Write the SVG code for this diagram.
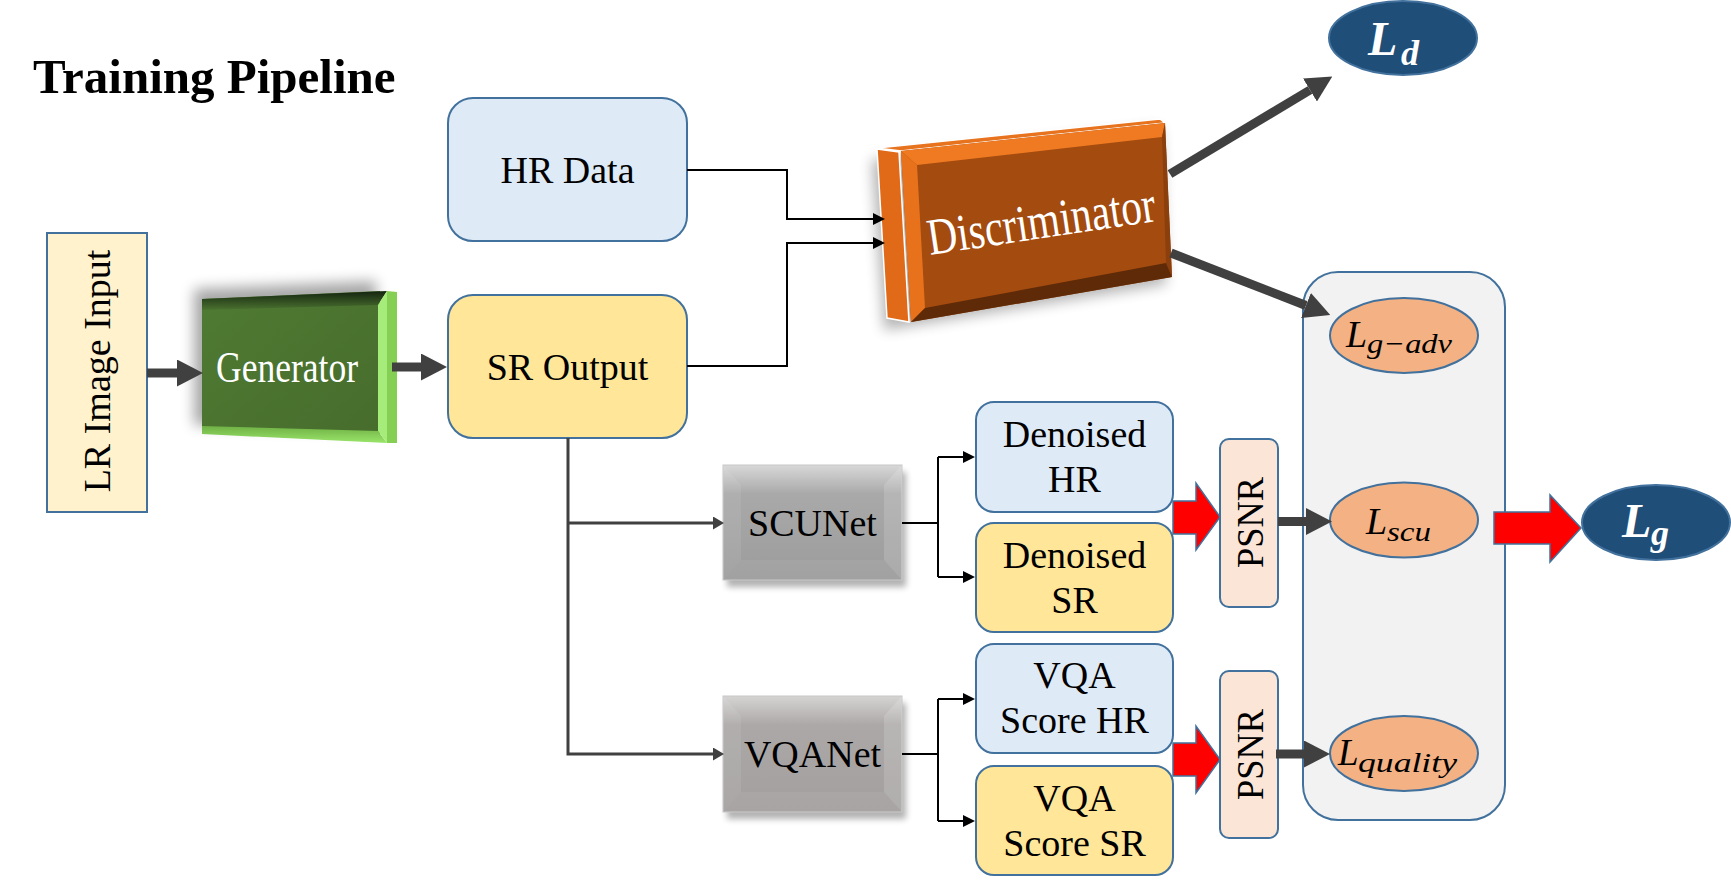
<svg xmlns="http://www.w3.org/2000/svg" width="1731" height="889" viewBox="0 0 1731 889">
<defs>
<style>
text{font-family:"Liberation Serif","Times New Roman",serif;fill:#000;}
.lbl{font-size:38px;text-anchor:middle;}
.box{stroke:#41719C;stroke-width:2;}
.blue{fill:#DEEBF7;}
.yel{fill:#FFE699;}
.thin{fill:none;stroke:#000;stroke-width:2;}
.gray{fill:none;stroke:#404040;stroke-width:3;}
.thick{fill:none;stroke:#404040;stroke-width:9;}
.red{fill:#FF0000;stroke:#41719C;stroke-width:1.5;}
.oval{fill:#F4B183;stroke:#41719C;stroke-width:2;}
.dark{fill:#1F4E79;stroke:#41719C;stroke-width:2;}
.math{font-style:italic;}
.wmath{font-style:italic;font-weight:bold;fill:#fff;}
.psnr{fill:#FBE5D6;}
</style>
<marker id="ahThick" markerUnits="userSpaceOnUse" viewBox="0 0 26 27" markerWidth="26" markerHeight="27" refX="0" refY="13.5" orient="auto"><path d="M0,0 L26,13.5 L0,27 z" fill="#404040"/></marker>
<marker id="ahSmall" markerUnits="userSpaceOnUse" viewBox="0 0 12 12" markerWidth="12" markerHeight="12" refX="0" refY="6" orient="auto"><path d="M0,0 L12,6 L0,12 z" fill="#000"/></marker>
<marker id="ahGray" markerUnits="userSpaceOnUse" viewBox="0 0 11 13" markerWidth="11" markerHeight="13" refX="0" refY="6.5" orient="auto"><path d="M0,0 L11,6.5 L0,13 z" fill="#404040"/></marker>
<filter id="soft" x="-30%" y="-30%" width="160%" height="160%"><feGaussianBlur stdDeviation="7"/></filter>
<filter id="soft2" x="-30%" y="-30%" width="160%" height="160%"><feGaussianBlur stdDeviation="3"/></filter>
<linearGradient id="gGreen" x1="0" y1="0" x2="1" y2="1"><stop offset="0" stop-color="#4F7B33"/><stop offset="1" stop-color="#476C2C"/></linearGradient>
<linearGradient id="gGreenTop" x1="0" y1="0" x2="0" y2="1"><stop offset="0" stop-color="#142410"/><stop offset="1" stop-color="#4B7230"/></linearGradient>
<linearGradient id="gGreenBot" x1="0" y1="0" x2="0" y2="1"><stop offset="0" stop-color="#6FB045"/><stop offset="1" stop-color="#9AE56A"/></linearGradient>
<linearGradient id="gGray1" x1="0" y1="0" x2="0" y2="1"><stop offset="0" stop-color="#D8D8D8"/><stop offset="0.25" stop-color="#A9A9A9"/><stop offset="1" stop-color="#9C9C9C"/></linearGradient>
<linearGradient id="gGray2" x1="0" y1="0" x2="0" y2="1"><stop offset="0" stop-color="#D6D3D3"/><stop offset="0.25" stop-color="#ACA8A8"/><stop offset="1" stop-color="#A39F9F"/></linearGradient>
</defs>

<rect width="1731" height="889" fill="#fff"/>

<text id="title" x="33" y="93" font-size="49" font-weight="bold">Training Pipeline</text>

<g id="lr-input">
<rect class="box" x="47" y="233" width="100" height="279" fill="#FFF2CC"/>
<text class="lbl" transform="translate(110,371) rotate(-90)">LR Image Input</text>
</g>

<g id="generator">
<polygon points="194,289 376,281 376,430 194,425" fill="#000" opacity="0.35" filter="url(#soft)"/>
<polygon points="202,299 380,291 380,442 202,433" fill="url(#gGreen)"/>
<polygon points="202,299 387,291 378,305 202,310" fill="url(#gGreenTop)"/>
<polygon points="202,426 378,431 387,443 202,434" fill="url(#gGreenBot)"/>
<polygon points="378,305 387,291 387,443 378,431" fill="#A6EC7A"/>
<polygon points="387,291 397,292 397,443 387,443" fill="#86CF55"/>
<text x="216" y="382" font-size="44" fill="#fff" style="fill:#fff" textLength="142" lengthAdjust="spacingAndGlyphs">Generator</text>
</g>

<g id="hr-data">
<rect class="box blue" x="448" y="98" width="239" height="143" rx="25"/>
<text class="lbl" x="567.5" y="183">HR Data</text>
</g>

<g id="sr-output">
<rect class="box yel" x="448" y="295" width="239" height="143" rx="25"/>
<text class="lbl" x="567.5" y="380">SR Output</text>
</g>

<g id="discriminator">
<polygon points="872,160 1160,128 1166,284 884,330" fill="#000" opacity="0.3" filter="url(#soft)"/>
<polygon points="877,148 1160,119 1165,123 901,151" fill="#E8731E" stroke="#fff" stroke-width="1.5"/>
<polygon points="877,149 899,152 909,322 887,318" fill="#E06A18" stroke="#fff" stroke-width="1.5"/>
<polygon points="901,151 1165,123 1172,277 911,322" fill="#A44B0F"/>
<polygon points="901,151 1165,123 1162,137 917,165" fill="#F07A22"/>
<polygon points="901,151 917,165 925,308 911,322" fill="#E8721C"/>
<polygon points="1165,123 1172,277 1166,263 1162,137" fill="#8A3F0C"/>
<polygon points="925,308 1166,263 1172,277 911,322" fill="#5E2A08"/>
<text x="930" y="255" font-size="52" style="fill:#fff" transform="rotate(-8.5 930 255)" textLength="230" lengthAdjust="spacingAndGlyphs">Discriminator</text>
</g>

<g id="scunet">
<rect x="727" y="472" width="179" height="115" fill="#000" opacity="0.3" filter="url(#soft2)"/>
<rect x="723" y="465" width="179" height="115" fill="url(#gGray1)" stroke="#C8C8C8" stroke-width="1"/>
<polygon points="723,465 741,485 741,560 723,580" fill="#fff" opacity="0.08"/>
<polygon points="902,465 884,485 884,560 902,580" fill="#fff" opacity="0.15"/>
<polygon points="723,580 741,560 884,560 902,580" fill="#fff" opacity="0.06"/>
<text class="lbl" x="812.5" y="536">SCUNet</text>
</g>

<g id="vqanet">
<rect x="727" y="703" width="179" height="116" fill="#000" opacity="0.3" filter="url(#soft2)"/>
<rect x="723" y="696" width="179" height="116" fill="url(#gGray2)" stroke="#C8C8C8" stroke-width="1"/>
<polygon points="723,696 741,716 741,792 723,812" fill="#fff" opacity="0.08"/>
<polygon points="902,696 884,716 884,792 902,812" fill="#fff" opacity="0.15"/>
<polygon points="723,812 741,792 884,792 902,812" fill="#fff" opacity="0.06"/>
<text class="lbl" x="812.5" y="767">VQANet</text>
</g>

<g id="denoised-hr">
<rect class="box blue" x="976" y="402" width="197" height="110" rx="18"/>
<text class="lbl" x="1074.5" y="447">Denoised</text>
<text class="lbl" x="1074.5" y="492">HR</text>
</g>

<g id="denoised-sr">
<rect class="box yel" x="976" y="523" width="197" height="109" rx="18"/>
<text class="lbl" x="1074.5" y="568">Denoised</text>
<text class="lbl" x="1074.5" y="613">SR</text>
</g>

<g id="vqa-hr">
<rect class="box blue" x="976" y="644" width="197" height="109" rx="18"/>
<text class="lbl" x="1074.5" y="688">VQA</text>
<text class="lbl" x="1074.5" y="733">Score HR</text>
</g>

<g id="vqa-sr">
<rect class="box yel" x="976" y="766" width="197" height="109" rx="18"/>
<text class="lbl" x="1074.5" y="811">VQA</text>
<text class="lbl" x="1074.5" y="856">Score SR</text>
</g>

<g id="psnr1">
<rect class="box psnr" x="1220" y="439" width="58" height="168" rx="9"/>
<text class="lbl" font-size="38" transform="translate(1263,522.5) rotate(-90)" textLength="91" lengthAdjust="spacingAndGlyphs">PSNR</text>
</g>

<g id="psnr2">
<rect class="box psnr" x="1220" y="671" width="58" height="167" rx="9"/>
<text class="lbl" font-size="38" transform="translate(1263,754.5) rotate(-90)" textLength="91" lengthAdjust="spacingAndGlyphs">PSNR</text>
</g>

<g id="loss-group">
<rect class="box" x="1303" y="272" width="202" height="548" rx="35" fill="#F2F2F2"/>
</g>

<g id="l-gadv">
<ellipse class="oval" cx="1404" cy="335.5" rx="74" ry="37.5"/>
<text class="math" x="1346" y="347" font-size="38">L</text>
<text class="math" x="1367" y="353" font-size="28" textLength="85" lengthAdjust="spacingAndGlyphs">g−adv</text>
</g>

<g id="l-scu">
<ellipse class="oval" cx="1404" cy="520" rx="74" ry="37.5"/>
<text class="math" x="1366" y="534" font-size="38">L</text>
<text class="math" x="1387" y="541" font-size="28" textLength="44" lengthAdjust="spacingAndGlyphs">scu</text>
</g>

<g id="l-quality">
<ellipse class="oval" cx="1404" cy="753.5" rx="74" ry="37.5"/>
<text class="math" x="1338" y="765" font-size="37">L</text>
<text class="math" x="1358" y="772" font-size="28" textLength="99" lengthAdjust="spacingAndGlyphs">quality</text>
</g>

<g id="l-d">
<ellipse class="dark" cx="1403" cy="38" rx="74" ry="37"/>
<text class="wmath" x="1368" y="55" font-size="48" style="fill:#fff">L</text>
<text class="wmath" x="1401" y="65" font-size="36" style="fill:#fff">d</text>
</g>

<g id="l-g">
<ellipse class="dark" cx="1656" cy="522.5" rx="74" ry="37.5"/>
<text class="wmath" x="1622" y="537" font-size="48" style="fill:#fff">L</text>
<text class="wmath" x="1651" y="545" font-size="36" style="fill:#fff">g</text>
</g>

<g id="connectors">
<path class="thick" d="M147,373 H177" marker-end="url(#ahThick)"/>
<path class="thick" d="M392,367 H421" marker-end="url(#ahThick)"/>
<path class="thin" d="M687,170 H787 V219 H873" marker-end="url(#ahSmall)"/>
<path class="thin" d="M687,366 H787 V243 H873" marker-end="url(#ahSmall)"/>
<path class="gray" d="M568,438 V754 H712"/>
<path class="gray" d="M712,754 H713" marker-end="url(#ahGray)"/>
<path class="gray" d="M568,523 H713" marker-end="url(#ahGray)"/>
<path class="thin" d="M902,523 H938"/>
<path class="thin" d="M938,457 V577"/>
<path class="thin" d="M938,457 H963" marker-end="url(#ahSmall)"/>
<path class="thin" d="M938,577 H963" marker-end="url(#ahSmall)"/>
<path class="thin" d="M902,754 H938"/>
<path class="thin" d="M938,699 V821"/>
<path class="thin" d="M938,699 H963" marker-end="url(#ahSmall)"/>
<path class="thin" d="M938,821 H963" marker-end="url(#ahSmall)"/>
<path class="thick" d="M1170,174 L1310,90" marker-end="url(#ahThick)"/>
<path class="thick" d="M1171,253 L1306,305.5" marker-end="url(#ahThick)"/>
<path class="thick" d="M1278,521.5 H1306" marker-end="url(#ahThick)"/>
<path class="thick" d="M1276,754 H1304" marker-end="url(#ahThick)"/>
<path class="red" d="M1173,501 H1196 V483 L1220,517 L1196,550 V534 H1173 Z"/>
<path class="red" d="M1173,743 H1196 V726 L1220,759.5 L1196,793 V776 H1173 Z"/>
<path class="red" d="M1494,512 H1550 V495 L1581,528 L1550,562 V544 H1494 Z"/>
</g>
</svg>
